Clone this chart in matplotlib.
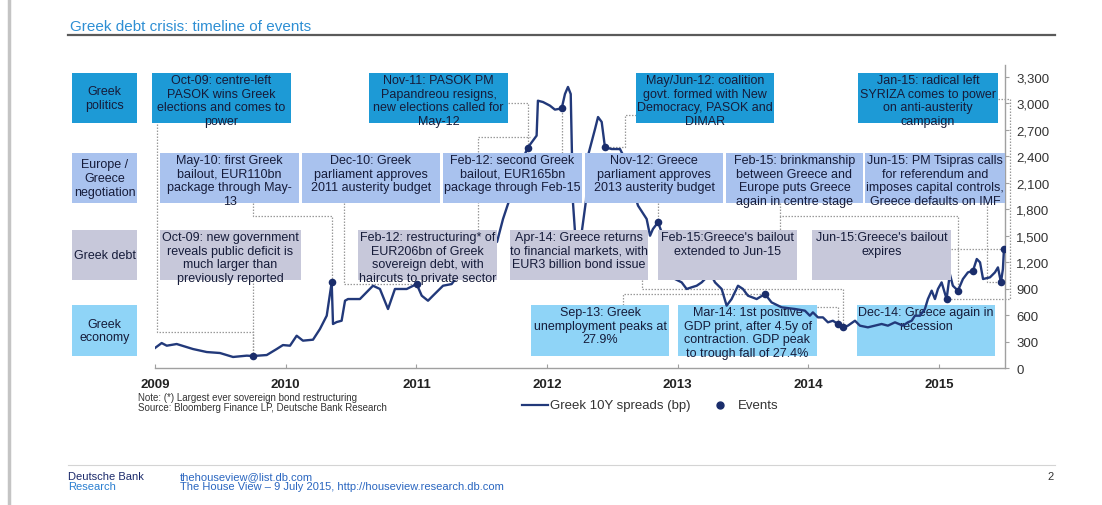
import numpy as np
import matplotlib
matplotlib.use("Agg")
import matplotlib.pyplot as plt
from matplotlib.patches import Rectangle
from matplotlib.transforms import Affine2D
from matplotlib.lines import Line2D
from matplotlib.ticker import FuncFormatter

plt.rcParams['font.family'] = ['Liberation Sans', 'DejaVu Sans']

# ---------------------------------------------------------------- data
# Greek 10Y spread over Bunds (bp), dates as decimal years
dates = [
    2009.000, 2009.051, 2009.090, 2009.166, 2009.291, 2009.396, 2009.497, 2009.597,
    2009.702, 2009.750, 2009.855, 2009.931, 2009.979, 2010.033, 2010.084, 2010.132,
    2010.209, 2010.262, 2010.314, 2010.352, 2010.362, 2010.390, 2010.428, 2010.454,
    2010.477, 2010.568, 2010.620, 2010.668, 2010.721, 2010.783, 2010.836, 2010.926,
    2011.002, 2011.041, 2011.089, 2011.127, 2011.204, 2011.270, 2011.318, 2011.372,
    2011.425, 2011.487, 2011.548, 2011.617, 2011.663, 2011.701, 2011.747, 2011.793,
    2011.823, 2011.852, 2011.920, 2011.930, 2011.969, 2012.022, 2012.060, 2012.112,
    2012.137, 2012.160, 2012.181, 2012.191, 2012.198, 2012.213, 2012.236, 2012.267,
    2012.298, 2012.313, 2012.367, 2012.390, 2012.418, 2012.443, 2012.494, 2012.558,
    2012.604, 2012.642, 2012.673, 2012.696, 2012.762, 2012.788, 2012.810, 2012.849,
    2012.877, 2012.915, 2012.953, 2012.979, 2013.030, 2013.068, 2013.106, 2013.145,
    2013.183, 2013.221, 2013.246, 2013.285, 2013.336, 2013.374, 2013.412, 2013.461,
    2013.499, 2013.537, 2013.604, 2013.667, 2013.718, 2013.795, 2013.897, 2013.973,
    2014.011, 2014.034, 2014.073, 2014.111, 2014.149, 2014.187, 2014.226, 2014.264,
    2014.302, 2014.356, 2014.394, 2014.455, 2014.509, 2014.560, 2014.608, 2014.662,
    2014.723, 2014.761, 2014.790, 2014.815, 2014.853, 2014.891, 2014.914, 2014.943,
    2014.968, 2014.991, 2015.019, 2015.057, 2015.082, 2015.105, 2015.144, 2015.182,
    2015.220, 2015.259, 2015.288, 2015.313, 2015.336, 2015.389, 2015.427, 2015.450,
    2015.473, 2015.488, 2015.496,
]
spreads = [
    227, 283, 253, 272, 215, 181, 170, 125,
    140, 136, 147, 215, 260, 253, 366, 310,
    321, 442, 593, 972, 499, 521, 536, 763,
    782, 782, 861, 933, 896, 669, 896, 896,
    952, 820, 763, 820, 933, 952, 1050, 1250,
    1420, 1300, 1380, 1430, 1690, 1860, 2050, 2250,
    2400, 2498, 2635, 3031, 3016, 2975, 2930, 2944,
    3107, 3187, 3107, 2400, 1880, 1560, 1480, 1560,
    1900, 2407, 2710, 2846, 2790, 2503, 2483, 2483,
    2350, 2100, 1950, 1841, 1690, 1500, 1576, 1652,
    1539, 1330, 1084, 1009, 971, 896, 915, 933,
    971, 1028, 1084, 971, 896, 707, 782, 933,
    896, 820, 782, 839, 744, 688, 669, 650,
    593, 631, 574, 574, 518, 536, 499, 461,
    480, 536, 480, 461, 480, 499, 480, 518,
    480, 518, 536, 593, 593, 669, 782, 877,
    782, 896, 971, 782, 1066, 933, 877, 1009,
    1084, 1103, 1236, 1198, 1009, 1028, 1084, 1141,
    971, 1122, 1350,
]

# event markers on the spread line
event_dates = [2009.750, 2010.352, 2011.002, 2011.852, 2012.112, 2012.443, 2012.849,
               2013.667, 2014.226, 2014.264, 2015.057, 2015.144, 2015.259, 2015.473,
               2015.496]
event_values = [136, 972, 952, 2498, 2944, 2503, 1652,
                839, 499, 461, 782, 877, 1103, 971,
                1350]

year_ticks = [2009, 2010, 2011, 2012, 2013, 2014, 2015]
value_ticks = list(range(0, 3301, 300))

row_labels = ["Greek\npolitics", "Europe /\nGreece\nnegotiation", "Greek debt", "Greek\neconomy"]

politics_notes = [
    "Oct-09: centre-left\nPASOK wins Greek\nelections and comes to\npower",
    "Nov-11: PASOK PM\nPapandreou resigns,\nnew elections called for\nMay-12",
    "May/Jun-12: coalition\ngovt. formed with New\nDemocracy, PASOK and\nDIMAR",
    "Jan-15: radical left\nSYRIZA comes to power\non anti-austerity\ncampaign",
]
negotiation_notes = [
    "May-10: first Greek\nbailout, EUR110bn\npackage through May-\n13",
    "Dec-10: Greek\nparliament approves\n2011 austerity budget",
    "Feb-12: second Greek\nbailout, EUR165bn\npackage through Feb-15",
    "Nov-12: Greece\nparliament approves\n2013 austerity budget",
    "Feb-15: brinkmanship\nbetween Greece and\nEurope puts Greece\nagain in centre stage",
    "Jun-15: PM Tsipras calls\nfor referendum and\nimposes capital controls,\nGreece defaults on IMF",
]
debt_notes = [
    "Oct-09: new government\nreveals public deficit is\nmuch larger than\npreviously reported",
    "Feb-12: restructuring* of\nEUR206bn of Greek\nsovereign debt, with\nhaircuts to private sector",
    "Apr-14: Greece returns\nto financial markets, with\nEUR3 billion bond issue",
    "Feb-15:Greece's bailout\nextended to Jun-15",
    "Jun-15:Greece's bailout\nexpires",
]
economy_notes = [
    "Sep-13: Greek\nunemployment peaks at\n27.9%",
    "Mar-14: 1st positive\nGDP print, after 4.5y of\ncontraction. GDP peak\nto trough fall of 27.4%",
    "Dec-14: Greece again in\nrecession",
]

# ---------------------------------------------------------------- layout
W, H = 1102, 506
fig = plt.figure(figsize=(W / 100, H / 100), dpi=100)
fig.patch.set_facecolor("white")
# pixel coordinates measured from the top-left corner
px = Affine2D().scale(1 / W, -1 / H).translate(0, 1) + fig.transFigure

AX_L, AX_R, AX_T, AX_B = 155, 1005, 66, 369
ax = fig.add_axes([AX_L / W, 1 - AX_B / H, (AX_R - AX_L) / W, (AX_B - AX_T) / H])
ax.patch.set_alpha(0)

C_POL = "#1d9ad6"
C_NEG = "#a9c2ee"
C_DEBT = "#c7c8da"
C_ECO = "#8fd4f7"
C_TXT = "#161c3a"
C_LINE = "#22397a"
C_DOT = "#1a2d6b"
C_DASH = "#9a9a9a"

rows = [  # (top, height, colour, box zorder, [(left, right), ...], notes)
    (74, 50, C_POL, 5, [(152, 291), (369, 508), (636, 774), (858, 998)], politics_notes),
    (154, 50, C_NEG, 5, [(160, 299), (302, 440), (443, 582), (585, 723), (726, 863), (865, 1005)], negotiation_notes),
    (231, 50, C_DEBT, 5, [(160, 301), (358, 497), (510, 648), (658, 797), (812, 951)], debt_notes),
    (306, 51, C_ECO, 2, [(531, 669), (678, 817), (857, 995)], economy_notes),
]

FS_BOX = 9
LS_BOX = 1.17

for (top, h, col, z, spans, notes), lab in zip(rows, row_labels):
    ax.add_patch(Rectangle((72, top), 65, h, transform=px, facecolor=col,
                           edgecolor="none", clip_on=False, zorder=z))
    ax.text(104.5, top + h / 2, lab, transform=px, ha="center", va="center",
            fontsize=FS_BOX, color=C_TXT, linespacing=LS_BOX, zorder=z + 0.5)
    for (l, r), note in zip(spans, notes):
        ax.add_patch(Rectangle((l, top), r - l, h, transform=px, facecolor=col,
                               edgecolor="none", clip_on=False, zorder=z))
        ax.text((l + r) / 2, top + 1, note, transform=px, ha="center", va="top",
                fontsize=FS_BOX, color=C_TXT, linespacing=LS_BOX, zorder=z + 0.5)

# ---------------------------------------------------------------- axes
ax.set_xlim(2009.0, 2015.504)
ax.set_ylim(0, 3436)
ax.set_autoscale_on(False)

ax.plot(dates, spreads, color=C_LINE, lw=1.7, zorder=3, solid_joinstyle="round")
ax.scatter(event_dates, event_values, s=30, color=C_DOT, zorder=7, linewidths=0)

for s in ("left", "top"):
    ax.spines[s].set_visible(False)
for s in ("bottom", "right"):
    ax.spines[s].set_color("#a0a0a0")
    ax.spines[s].set_linewidth(1.0)

ax.yaxis.tick_right()
ax.set_yticks(value_ticks)
ax.yaxis.set_major_formatter(FuncFormatter(lambda v, p: f"{int(v):,}"))
ax.tick_params(axis="y", direction="out", length=3, width=0.8, color="#a0a0a0",
               labelsize=9.5, labelcolor="#333333", pad=5)
ax.set_xticks(year_ticks)
ax.set_xticklabels([str(y) for y in year_ticks], fontweight="bold")
ax.tick_params(axis="x", direction="in", length=3, width=0.8, color="#a0a0a0",
               labelsize=9.5, labelcolor="#222222", pad=7)

# ---------------------------------------------------------------- connectors
fig.canvas.draw()


def event_px(i):
    dx, dy = ax.transData.transform((event_dates[i], event_values[i]))
    return dx, H - dy


def connector(points, event=None, mode=None):
    pts = [list(p) for p in points]
    if event is not None:
        ex, ey = event_px(event)
        if mode == "v":
            pts[-1][0] = ex
        elif mode == "h":
            pts[-1][1] = ey
        pts.append([ex, ey])
    xs, ys = zip(*pts)
    ax.add_line(Line2D(xs, ys, transform=px, color=C_DASH, lw=0.9,
                       linestyle=(0, (1.2, 1.2)), clip_on=False, zorder=1.5))


connector([(157, 125), (157, 333), (253, 333)], 0, "v")
connector([(253, 281)], 0, "v")
connector([(253, 204), (253, 217), (331, 217)], 1, "v")
connector([(344, 204), (344, 286)], 2, "h")
connector([(508, 104), (530, 104)], 3, "v")
connector([(478, 231), (478, 138), (530, 138)])
connector([(560, 154)], 4, "v")
connector([(636, 116), (625, 116), (625, 149)], 5, "h")
connector([(658, 204)], 6, "v")
connector([(623, 306), (623, 296)], 7, "h")
connector([(642, 281), (642, 290), (845, 290)], 9, "v")
connector([(817, 308), (836, 308)], 8, "v")
connector([(780, 204), (780, 217), (958, 217)], 11, "v")
connector([(780, 217), (780, 231)])
connector([(987, 204), (987, 283)], 13, "h")
connector([(951, 250)], 14, "h")
connector([(998, 100), (1010, 100), (1010, 300)], 10, "h")

# ---------------------------------------------------------------- page furniture
fig.add_artist(Line2D([9, 9], [0, H], transform=px, color="#c4c4c4", lw=2.5))
fig.text(70, 27, "Greek debt crisis: timeline of events", transform=px, ha="left",
         va="center", fontsize=11, color="#2e8fd4")
fig.add_artist(Line2D([68, 1055], [36, 36], transform=px, color="#5a5a5a", lw=1.6))

fig.text(138, 398, "Note: (*) Largest ever sovereign bond restructuring", transform=px,
         fontsize=7, color="#333333", va="center")
fig.text(138, 408, "Source: Bloomberg Finance LP, Deutsche Bank Research", transform=px,
         fontsize=7, color="#333333", va="center")

fig.add_artist(Line2D([522, 548], [406, 406], transform=px, color=C_LINE, lw=1.6))
fig.text(550, 406, "Greek 10Y spreads (bp)", transform=px, fontsize=9.5,
         color="#333333", va="center")
fig.add_artist(Line2D([720], [406], transform=px, marker="o", markersize=5,
                      color=C_DOT, linestyle="none"))
fig.text(738, 406, "Events", transform=px, fontsize=9.5, color="#333333", va="center")

fig.add_artist(Line2D([68, 1055], [466, 466], transform=px, color="#d4d4d4", lw=0.8))
fig.text(68, 477, "Deutsche Bank", transform=px, fontsize=8, color="#1b2a6b", va="center")
fig.text(68, 487, "Research", transform=px, fontsize=8, color="#2a7fd0", va="center")
fig.text(180, 477, "thehouseview@list.db.com", transform=px, fontsize=8,
         color="#2a66c0", va="center")
fig.text(180, 487, "The House View \u2013 9 July 2015, http://houseview.research.db.com",
         transform=px, fontsize=8, color="#2a66c0", va="center")
fig.text(1047, 477, "2", transform=px, fontsize=8, color="#333333", va="center")

fig.savefig("out.png", dpi=100, facecolor="white")
